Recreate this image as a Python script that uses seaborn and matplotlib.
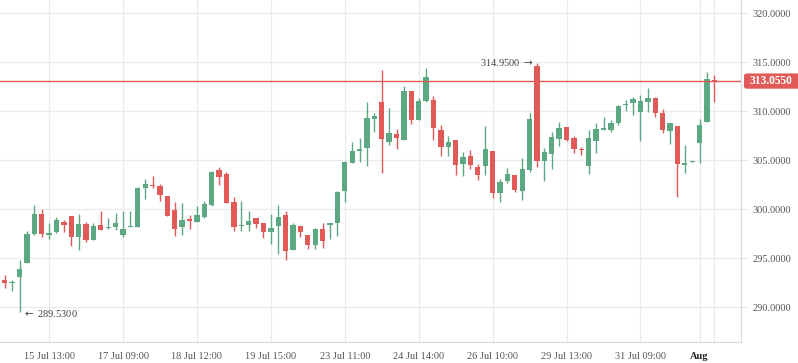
import numpy as np
import matplotlib
matplotlib.use("Agg")
import matplotlib.pyplot as plt
import matplotlib.transforms as mtransforms
import matplotlib.patches as mpatches
import seaborn as sns

# OHLC values, one candle per slot
opens = [292.76, 292.40, 293.10, 294.52, 297.48, 299.49, 297.30, 297.62, 298.70, 299.29,
         297.17, 298.47, 296.84, 298.33, 298.06, 298.13, 297.38, 298.20, 298.20, 302.18,
         302.48, 302.35, 301.33, 299.90, 298.20, 298.98, 298.70, 299.22, 300.44, 303.98,
         303.57, 300.71, 298.27, 298.40, 299.08, 298.57, 297.68, 298.30, 299.39, 295.85,
         298.27, 297.35, 296.36, 297.96, 298.40, 298.60, 301.87, 304.73, 305.94, 306.26,
         309.20, 310.92, 306.87, 307.65, 307.07, 312.04, 309.11, 311.02, 311.12, 308.06,
         306.36, 307.04, 304.62, 305.41, 304.29, 304.42, 305.92, 301.66, 302.90, 303.47,
         301.87, 304.01, 314.59, 304.93, 305.64, 307.17, 308.34, 307.24, 306.15, 304.42,
         306.97, 308.10, 308.10, 308.80, 310.61, 310.85, 309.93, 310.95, 311.33, 309.83,
         307.99, 308.47, 304.52, 304.80, 306.77, 308.91, 313.12]
highs = [293.27, 292.80, 294.80, 297.76, 300.41, 299.97, 298.60, 299.20, 298.88, 299.29,
         299.49, 298.67, 298.60, 299.80, 299.05, 299.60, 299.80, 299.80, 302.24, 303.06,
         303.37, 302.58, 301.33, 300.71, 300.61, 299.39, 300.30, 300.82, 303.88, 304.29,
         303.78, 301.22, 300.82, 299.80, 299.08, 298.57, 299.49, 300.40, 299.80, 298.57,
         298.27, 297.35, 298.06, 298.57, 298.57, 301.84, 304.90, 306.84, 307.24, 310.92,
         309.80, 314.18, 310.31, 308.16, 312.55, 312.04, 311.36, 314.39, 311.53, 308.57,
         307.45, 307.04, 305.82, 306.02, 304.62, 308.47, 305.92, 303.10, 304.20, 303.47,
         305.23, 309.80, 314.95, 306.22, 307.86, 308.90, 308.34, 307.45, 306.36, 308.06,
         308.80, 309.39, 309.08, 310.61, 311.12, 311.46, 311.63, 312.35, 311.43, 310.20,
         308.78, 308.47, 306.56, 304.85, 309.18, 313.98, 313.70]
lows = [291.94, 291.60, 289.53, 294.50, 297.40, 297.17, 296.90, 297.60, 297.65, 296.26,
        295.85, 296.66, 296.84, 297.86, 297.96, 297.83, 297.10, 298.15, 298.20, 301.05,
        302.17, 300.85, 299.30, 297.28, 297.38, 297.99, 298.70, 299.08, 300.31, 302.48,
        300.60, 297.79, 297.79, 297.79, 298.09, 297.07, 296.46, 295.44, 294.83, 295.85,
        297.17, 295.90, 295.95, 296.05, 296.97, 297.28, 300.74, 304.70, 304.83, 304.42,
        307.90, 303.70, 306.56, 306.15, 307.07, 308.70, 309.10, 310.90, 307.07, 305.44,
        305.44, 303.50, 303.40, 304.11, 302.99, 303.50, 301.15, 300.74, 302.70, 301.77,
        300.95, 303.80, 304.32, 302.90, 304.10, 306.46, 306.90, 305.74, 305.54, 303.60,
        305.74, 308.10, 307.90, 308.60, 310.03, 309.62, 306.94, 309.93, 309.42, 307.79,
        306.66, 301.26, 303.70, 304.80, 304.72, 308.90, 310.95]
closes = [292.48, 292.55, 293.90, 297.45, 299.49, 297.42, 297.55, 298.88, 298.40, 297.17,
          298.47, 296.84, 298.27, 297.86, 298.20, 298.57, 297.96, 298.25, 302.14, 302.58,
          302.38, 301.46, 299.32, 297.99, 298.88, 298.80, 299.39, 300.51, 303.78, 303.30,
          300.64, 298.20, 298.37, 298.78, 298.50, 297.68, 298.06, 299.18, 295.74, 298.37,
          297.68, 296.36, 297.96, 296.77, 298.57, 301.73, 304.80, 305.92, 306.12, 309.29,
          309.49, 307.17, 307.76, 307.28, 312.04, 309.11, 311.02, 313.47, 308.30, 306.36,
          306.84, 304.52, 305.30, 304.52, 303.50, 306.12, 301.66, 302.76, 303.57, 301.94,
          304.08, 309.18, 304.93, 305.82, 307.35, 308.27, 307.07, 306.15, 306.05, 307.24,
          308.13, 308.27, 308.78, 310.51, 310.71, 311.22, 310.99, 311.33, 309.83, 308.09,
          308.78, 304.62, 304.69, 304.85, 308.57, 313.27, 313.055]

tick_pos = [6, 16, 26, 36, 46, 56, 66, 76, 86, 94, 96]
tick_labels = ["15 Jul 13:00", "17 Jul 09:00", "18 Jul 12:00", "19 Jul 15:00",
               "23 Jul 11:00", "24 Jul 14:00", "26 Jul 10:00", "29 Jul 13:00",
               "31 Jul 09:00", "Aug", ""]
price_ticks = [290, 295, 300, 305, 310, 315, 320]
last_price = 313.055

sns.set_theme(style="whitegrid", rc={
    "grid.color": "#e9ebee",
    "grid.linewidth": 0.9,
    "axes.edgecolor": "#d8dbe0",
    "axes.linewidth": 0.9,
})
plt.rcParams["font.family"] = ["Liberation Serif", "DejaVu Serif"]

green = "#5ba882"
red = "#e05b57"
txt_gray = "#555555"

fig = plt.figure(figsize=(7.98, 3.63), dpi=100)
ax = fig.add_axes([0, 21 / 363, 741 / 798, 342 / 363])

o = np.array(opens)
h = np.array(highs)
l = np.array(lows)
c = np.array(closes)
x = np.arange(len(o))
up = c >= o
cols = np.where(up, green, red)

ax.vlines(x, l, h, colors=cols, linewidth=1.0, zorder=3)
bottoms = np.minimum(o, c)
heights = np.maximum(np.abs(c - o), 0.1)
ax.bar(x, heights, bottom=bottoms, width=0.72, color=cols, linewidth=0, zorder=4)

ax.axhline(last_price, color=red, linewidth=1.0, zorder=5)

ax.set_xlim(-0.64, 99.6)
ax.set_ylim(286.43, 321.33)

ax.set_xticks(tick_pos)
ax.set_xticklabels(tick_labels, fontsize=7.5, color=txt_gray)
for lab in ax.get_xticklabels():
    if lab.get_text() == "Aug":
        lab.set_fontweight("bold")
        lab.set_color("#222222")
ax.set_yticks(price_ticks)
ax.yaxis.tick_right()
ax.set_yticklabels([f"{v:.4f}" for v in price_ticks], fontsize=7.5, color=txt_gray)
ax.tick_params(axis="x", length=0, pad=7)
ax.tick_params(axis="y", length=4, width=0.9, color="#dfe2e6", pad=4)

for side in ["top", "left"]:
    ax.spines[side].set_visible(False)

# min / max annotations
imin = int(np.argmin(l))
imax = int(np.argmax(h))
ax.annotate(f"$\\leftarrow$ {l[imin]:.4f}", xy=(imin, l[imin]), xytext=(2, -1),
            textcoords="offset points", ha="left", va="center",
            fontsize=7.5, color="#444444")
ax.annotate(f"{h[imax]:.4f} $\\rightarrow$", xy=(imax, h[imax]), xytext=(-2, 0),
            textcoords="offset points", ha="right", va="center",
            fontsize=7.5, color="#444444")

# last price badge on the right axis
trans = mtransforms.blended_transform_factory(ax.transAxes, ax.transData)
badge = mpatches.FancyBboxPatch((1.004, last_price - 0.78), 0.09, 1.56,
                                boxstyle="round,pad=0,rounding_size=0.004",
                                mutation_aspect=60,
                                transform=trans, facecolor=red, edgecolor="none",
                                clip_on=False, zorder=6)
ax.add_patch(badge)
ax.text(1.0115, last_price, f"{last_price:.4f}", transform=trans, ha="left", va="center",
        fontsize=8.3, fontweight="bold", color="white", clip_on=False, zorder=7)

plt.savefig("out.png", dpi=100)
